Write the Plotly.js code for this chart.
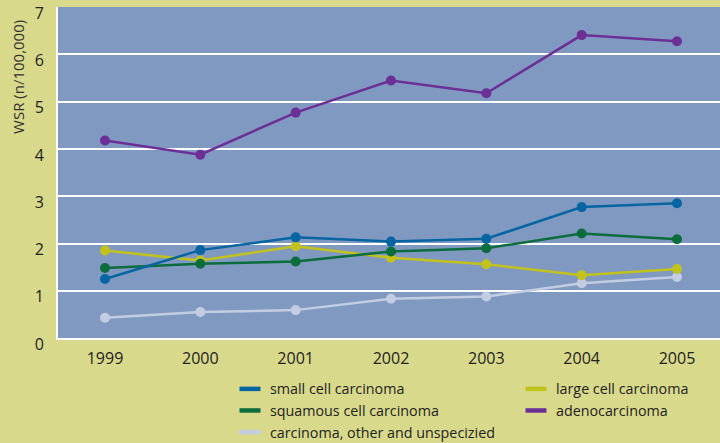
<!DOCTYPE html>
<html>
<head>
<meta charset="utf-8">
<script src="https://cdn.plot.ly/plotly-3.0.1.min.js"></script>
<style>html,body{margin:0;padding:0;background:#d9d98c;}#chart{width:720px;height:443px;}</style>
</head>
<body>
<div id="chart"></div>
<script>
const years = [1999, 2000, 2001, 2002, 2003, 2004, 2005];
const smallCell = [1.25, 1.86, 2.13, 2.04, 2.10, 2.77, 2.85];
const squamous = [1.48, 1.57, 1.62, 1.83, 1.90, 2.21, 2.09];
const largeCell = [1.85, 1.64, 1.94, 1.70, 1.56, 1.33, 1.46];
const adeno = [4.18, 3.88, 4.77, 5.45, 5.18, 6.41, 6.28];
const other = [0.43, 0.55, 0.59, 0.83, 0.88, 1.16, 1.29];
const yTicks = [0, 1, 2, 3, 4, 5, 6, 7];
const xTickLabels = ['1999', '2000', '2001', '2002', '2003', '2004', '2005'];
const yTitle = 'WSR (n/100,000)';

const series = [
  {name: 'small cell carcinoma', y: smallCell, color: '#0565a3', legend: 'legend'},
  {name: 'squamous cell carcinoma', y: squamous, color: '#0b6c3c', legend: 'legend'},
  {name: 'carcinoma, other and unspecizied', y: other, color: '#c3cde2', legend: 'legend'},
  {name: 'large cell carcinoma', y: largeCell, color: '#c2c21c', legend: 'legend2'},
  {name: 'adenocarcinoma', y: adeno, color: '#6c2f95', legend: 'legend2'}
];
const drawOrder = [2, 3, 1, 0, 4];
const traces = [];
drawOrder.forEach(i => {
  const s = series[i];
  traces.push({
    x: years, y: s.y, type: 'scatter', mode: 'lines+markers', name: s.name,
    line: {color: s.color, width: 2.5}, marker: {color: s.color, size: 10},
    showlegend: false, hoverinfo: 'x+y'
  });
});
series.forEach(s => {
  traces.push({
    x: [null], y: [null], type: 'scatter', mode: 'markers', name: s.name,
    marker: {symbol: 'line-ew', size: 15, color: s.color, line: {color: s.color, width: 4.5}},
    showlegend: true, legend: s.legend
  });
});

const fam = '"Open Sans", sans-serif';
const legendFont = {size: 14.3, family: fam, color: '#222'};
const layout = {
  width: 720, height: 443,
  paper_bgcolor: '#d9d98c', plot_bgcolor: '#8099c1',
  margin: {l: 58, r: 0, t: 7, b: 105, autoexpand: false},
  font: {family: fam, color: '#222'},
  xaxis: {
    range: [1998.507, 2005.451], tickvals: years, ticktext: xTickLabels,
    showgrid: false, zeroline: false, showline: true, linecolor: '#ffffff', linewidth: 2,
    ticks: 'outside', ticklen: 5, tickcolor: 'rgba(0,0,0,0)',
    tickfont: {size: 16, family: fam, color: '#222'}
  },
  yaxis: {
    range: [0, 7.005], tickvals: yTicks, ticktext: yTicks.map(String),
    showgrid: true, gridcolor: '#ffffff', gridwidth: 2, zeroline: false,
    showline: true, linecolor: '#ffffff', linewidth: 2,
    ticks: 'outside', ticklen: 9, tickcolor: 'rgba(0,0,0,0)',
    ticklabeloverflow: 'allow', ticklabelshift: 6,
    tickfont: {size: 16, family: fam, color: '#222'}
  },
  annotations: [{
    text: yTitle, xref: 'paper', yref: 'paper', x: -0.0604, y: 0.967,
    xanchor: 'center', yanchor: 'top', textangle: -90, showarrow: false,
    font: {size: 15, family: fam, color: '#333'}
  }],
  legend: {
    x: 0.2598, y: -0.106, xanchor: 'left', yanchor: 'top', bgcolor: 'rgba(0,0,0,0)',
    font: legendFont, traceorder: 'normal', itemwidth: 30, tracegroupgap: 0
  },
  legend2: {
    x: 0.6918, y: -0.106, xanchor: 'left', yanchor: 'top', bgcolor: 'rgba(0,0,0,0)',
    font: legendFont, traceorder: 'normal', itemwidth: 30, tracegroupgap: 0
  },
  showlegend: true
};
Plotly.newPlot('chart', traces, layout, {displayModeBar: false, staticPlot: true});
</script>
</body>
</html>
